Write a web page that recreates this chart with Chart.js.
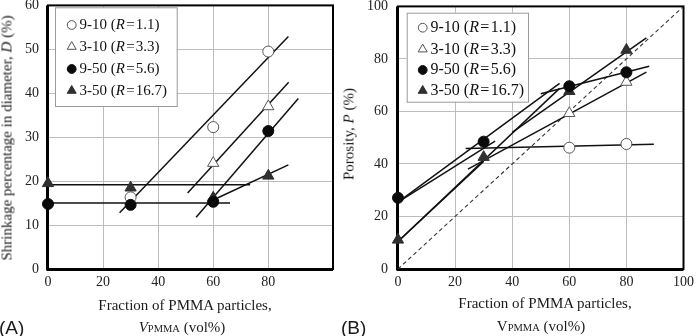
<!DOCTYPE html>
<html><head><meta charset="utf-8">
<script src="https://cdn.jsdelivr.net/npm/chart.js@4/dist/chart.umd.min.js"></script>
<style>
html,body{margin:0;padding:0;background:#fff;width:699px;height:336px;overflow:hidden;position:relative;font-family:"Liberation Serif","Times New Roman",serif;color:#1a1a1a}
.cv{position:absolute}
.t{position:absolute;white-space:nowrap;font-size:15px;line-height:1;transform:translate(-50%,-50%)}
.rot{transform:translate(-50%,-50%) rotate(-90deg)}
.sc{font-size:10.5px}
.lab{position:absolute;white-space:nowrap;font-family:"Liberation Sans",Arial,sans-serif;font-size:19px;line-height:1}
</style></head><body>
<div class="cv" style="left:0;top:-12px;width:349px;height:348px"><canvas id="cA"></canvas></div>
<div class="cv" style="left:349px;top:-12px;width:350px;height:348px"><canvas id="cB"></canvas></div>

<div class="t rot" style="left:7px;top:138px">Shrinkage percentage in diameter, <i>D</i> (%)</div>
<div class="t" style="left:185px;top:305px">Fraction of PMMA particles,</div>
<div class="t" style="left:182px;top:327px"><i>V</i><span class="sc">PMMA</span> (vol%)</div>
<div class="lab" style="left:-1px;top:318px">(A)</div>

<div class="t rot" style="left:349px;top:134px">Porosity, <i>P</i> (%)</div>
<div class="t" style="left:545px;top:303px">Fraction of PMMA particles,</div>
<div class="t" style="left:541px;top:326px">V<span class="sc">PMMA</span> (vol%)</div>
<div class="lab" style="left:341px;top:318px">(B)</div>

<script>
// ---------- data ----------
const fractionPMMA = [0, 30, 60, 80];
const seriesNames = ['9-10', '3-10', '9-50', '3-50'];
const ratioR = ['1.1', '3.3', '5.6', '16.7'];

// (A) shrinkage percentage in diameter, D (%)
const shrink_9_10 = [null, 16.3, 32.3, 49.5];
const shrink_3_10 = [null, null, 24.1, 37.0];
const shrink_9_50 = [14.8, 14.6, 15.3, 31.4];
const shrink_3_50 = [19.5, 18.5, 16.2, 21.2];
// (A) fitted lines: x pairs and y pairs
const fitA_x = [[0, 73.4], [0, 66.1], [26.0, 87.3], [50.7, 87.4], [53.8, 90.9], [59.6, 87.3]];
const fitA_y = [[19.2, 19.2], [15.0, 15.0], [12.8, 52.9], [17.3, 42.5], [11.8, 38.8], [15.6, 23.7]];

// (B) porosity, P (%)
const poro_9_10 = [null, null, 46.2, 47.6];
const poro_3_10 = [null, null, 59.3, 71.2];
const poro_9_50 = [27.1, 48.5, 69.6, 74.9];
const poro_3_50 = [11.1, 42.6, 67.7, 83.4];
// (B) fitted lines
const fitB_x = [[23.7, 89.6], [0, 34], [0, 56.6], [50, 88], [0, 56.6], [0, 30], [24.5, 87], [40, 87]];
const fitB_y = [[45.9, 47.5], [25.5, 48.7], [25.5, 70.7], [66.7, 77.2], [10.5, 68.8], [10.5, 41], [38, 75], [52, 88]];
// (B) reference line P = V
const diagX = [0, 100];
const diagY = [0, 100];

// ---------- styling ----------
const FONT = '"Liberation Serif", "Times New Roman", serif';
const markerStyles = [
  {pointStyle: 'circle',   radius: 5.5, bg: '#ffffff', border: '#555555', bw: 1, order: 1},
  {pointStyle: 'triangle', radius: 6.5, bg: '#ffffff', border: '#555555', bw: 1, order: 1},
  {pointStyle: 'circle',   radius: 5.5, bg: '#0a0a0a', border: '#0a0a0a', bw: 1, order: 0},
  {pointStyle: 'triangle', radius: 6.5, bg: '#303030', border: '#303030', bw: 1, order: 0}
];

function pts(xs, ys) {
  return xs.map((x, i) => ({x: x, y: ys[i]})).filter(p => p.y !== null);
}

function markerDatasets(seriesList) {
  return seriesList.map((vals, i) => {
    const m = markerStyles[i];
    return {
      label: seriesNames[i],
      data: pts(fractionPMMA, vals),
      showLine: false,
      pointStyle: m.pointStyle,
      pointRadius: m.radius,
      pointBackgroundColor: m.bg,
      pointBorderColor: m.border,
      pointBorderWidth: m.bw,
      order: m.order,
      clip: false
    };
  });
}

function lineDatasets(xs, ys) {
  return xs.map((xp, i) => ({
    label: 'fit',
    data: pts(xp, ys[i]),
    showLine: true,
    borderColor: '#111',
    borderWidth: 1.5,
    pointRadius: 0,
    order: 2,
    clip: false
  }));
}

const framePlugin = {
  id: 'frame',
  beforeDatasetsDraw(chart) {
    const a = chart.chartArea, ctx = chart.ctx;
    ctx.save();
    ctx.strokeStyle = '#000';
    ctx.lineWidth = 2;
    ctx.strokeRect(a.left, a.top, a.right - a.left, a.bottom - a.top);
    ctx.lineWidth = 1;
    ctx.beginPath();
    ctx.moveTo(a.left - 1, a.bottom + 1.5); ctx.lineTo(a.right, a.bottom + 1.5);
    ctx.moveTo(a.left - 1.5, a.top); ctx.lineTo(a.left - 1.5, a.bottom + 1.5);
    ctx.stroke();
    ctx.restore();
  }
};

const legendPlugin = {
  id: 'seriesLegend',
  afterDraw(chart, args, o) {
    const ctx = chart.ctx;
    ctx.save();
    ctx.fillStyle = '#fff';
    ctx.strokeStyle = '#9a9a9a';
    ctx.lineWidth = 1;
    ctx.fillRect(o.x, o.y, o.w, o.h);
    ctx.strokeRect(o.x + 0.5, o.y + 0.5, o.w, o.h);
    seriesNames.forEach((n, i) => {
      const cy = o.rows[i], m = markerStyles[i];
      ctx.fillStyle = m.bg;
      ctx.strokeStyle = m.border;
      ctx.lineWidth = m.bw;
      Chart.helpers.drawPoint(ctx, {pointStyle: m.pointStyle, radius: m.radius * o.mScale, rotation: 0, borderWidth: m.bw}, o.mx, cy);
      let x = o.tx;
      ctx.fillStyle = '#111';
      ctx.textBaseline = 'middle';
      ctx.textAlign = 'left';
      const parts = [[n + ' (', ''], ['R', 'italic '], ['\u200A=\u200A' + ratioR[i] + ')', '']];
      for (const [s, st] of parts) {
        ctx.font = st + o.fs + 'px ' + FONT;
        ctx.fillText(s, x, cy);
        x += ctx.measureText(s).width;
      }
    });
    ctx.restore();
  }
};

function makeChart(id, datasets, xMax, yMax, yStep, yWidth, yPad, padding, legendOpts) {
  return new Chart(document.getElementById(id), {
    type: 'scatter',
    data: {datasets: datasets},
    options: {
      responsive: true,
      maintainAspectRatio: false,
      animation: false,
      layout: {padding: padding},
      plugins: {legend: {display: false}, tooltip: {enabled: false}, seriesLegend: legendOpts},
      scales: {
        x: {
          type: 'linear', min: 0, max: xMax,
          ticks: {stepSize: 20, padding: 5, maxRotation: 0, color: '#222', font: {family: FONT, size: 14}},
          grid: {color: '#bdbdbd', lineWidth: 1, drawTicks: false},
          border: {display: false},
          afterBuildTicks: s => { s.ticks = s.ticks.filter(t => t.value <= 100.001); },
          afterFit: s => { s.height = 30; }
        },
        y: {
          type: 'linear', min: 0, max: yMax,
          ticks: {stepSize: yStep, padding: yPad, color: '#222', font: {family: FONT, size: 14}},
          grid: {color: '#bdbdbd', lineWidth: 1, drawTicks: false},
          border: {display: false},
          afterFit: s => { s.width = yWidth; }
        }
      }
    },
    plugins: [framePlugin, legendPlugin]
  });
}

makeChart('cA',
  markerDatasets([shrink_9_10, shrink_3_10, shrink_9_50, shrink_3_50]).concat(lineDatasets(fitA_x, fitA_y)),
  103.5, 60, 10, 40, 9,
  {left: 8, right: 16, top: 15, bottom: 37},
  {x: 55, y: 19.3, w: 121.7, h: 98.7, rows: [37, 58.7, 81, 102.7], mx: 71.7, tx: 79.5, fs: 15, mScale: 0.8});

makeChart('cB',
  markerDatasets([poro_9_10, poro_3_10, poro_9_50, poro_3_50])
    .concat(lineDatasets(fitB_x, fitB_y))
    .concat([{label: 'P=V', data: pts(diagX, diagY), showLine: true, borderColor: '#333', borderWidth: 1.1, borderDash: [4, 3], pointRadius: 0, order: 3}]),
  100, 100, 20, 40, 10,
  {left: 9, right: 12, top: 16, bottom: 37},
  {x: 57.7, y: 24.7, w: 121.3, h: 89, rows: [39.7, 61.3, 82, 102.7], mx: 73.7, tx: 81.5, fs: 16, mScale: 0.8});
</script>
</body></html>
